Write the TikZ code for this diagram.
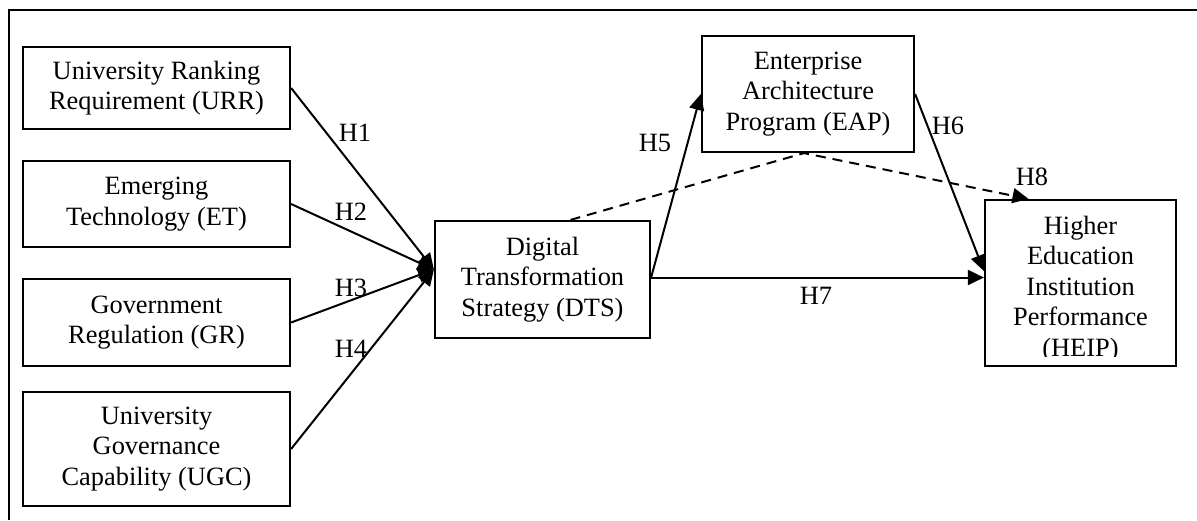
\documentclass[tikz,border=0pt]{standalone}
\usepackage{fontspec}
\setmainfont{Liberation Serif}
\usepackage{tikz}
\usetikzlibrary{%
arrows.meta,%
calc,%
positioning}

\begin{document}
\begin{tikzpicture}[x=0.5pt,y=-0.5pt,
    font=\fontsize{13.2}{15.2}\selectfont,
    construct/.style={draw,line width=1.1pt,inner sep=0pt,align=center},
    hyp/.style={line width=1pt,-{Triangle[length=8pt,width=7.5pt]}},
    mediation/.style={hyp,dash pattern=on 5pt off 3.5pt},
    hlabel/.style={inner sep=0pt}]
\useasboundingbox (0,0) rectangle (1197,520);
\draw[line width=1.3pt] (9,520) |- (1197,10);

% independent variables
\node[construct,minimum width=133.5pt,minimum height=41pt] (urr) at (156.5,88)
    {University Ranking\\Requirement (URR)};
\node[construct,minimum width=133.5pt,minimum height=43pt] (et) at (156.5,204)
    {Emerging\\Technology (ET)};
\node[construct,minimum width=133.5pt,minimum height=43.5pt] (gr) at (156.5,322.5)
    {Government\\Regulation (GR)};
\node[construct,minimum width=133.5pt,minimum height=57pt] (ugc) at (156.5,449)
    {University\\Governance\\Capability (UGC)};

% strategy, program, performance
\node[construct,minimum width=107.5pt,minimum height=58.5pt] (dts) at (542.5,279.5)
    {Digital\\Transformation\\Strategy (DTS)};
\node[construct,minimum width=106pt,minimum height=58pt] (eap) at (808,94)
    {Enterprise\\Architecture\\Program (EAP)};
\node[construct,minimum width=95.5pt,minimum height=83pt] (heip) at (1080.5,283) {};
\begin{scope}
    \clip (heip.north west) rectangle ([yshift=5.5pt]heip.south east);
    \node[align=center,inner sep=0pt,font=\fontsize{13.2}{15.25}\selectfont]
        (heiptxt) at ([yshift=-3pt]heip.center)
        {Higher\\Education\\Institution\\Performance\\(HEIP)};
\end{scope}

\coordinate (dtsin) at ([yshift=5pt]dts.west);
\coordinate (dtsout) at ([yshift=1pt]dts.east);

\draw[hyp] (urr.east) -- (dtsin);
\draw[hyp] (et.east) -- (dtsin);
\draw[hyp] (gr.east) -- (dtsin);
\draw[hyp] (ugc.east) -- (dtsin);
\draw[hyp] (dtsout) -- (eap.west);
\draw[hyp] (eap.east) -- ([yshift=6pt]heip.west);
\draw[hyp] (dtsout) -- (dtsout -| heip.west);
\draw[mediation] ([xshift=14pt]dts.north) -- ([xshift=-2pt]eap.south)
    -- ([xshift=-26pt]heip.north);

% hypothesis labels
\node[hlabel] (h1) at (355,133) {H1};
\node[hlabel] (h2) at (351,212) {H2};
\node[hlabel] (h3) at (351,288) {H3};
\node[hlabel] (h4) at (351,349) {H4};
\node[hlabel] (h5) at (655,143) {H5};
\node[hlabel] (h6) at (948,126) {H6};
\node[hlabel] (h7) at (816,296) {H7};
\node[hlabel] (h8) at (1032,177) {H8};

\end{tikzpicture}
\end{document}
